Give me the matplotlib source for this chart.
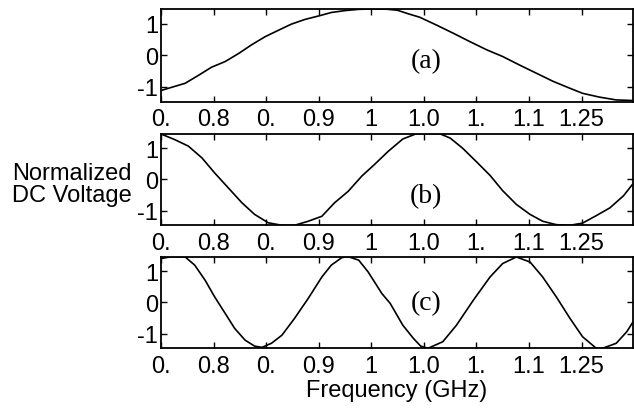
import matplotlib
matplotlib.use('Agg')
import matplotlib.pyplot as plt

# Values (frequency in GHz, normalized DC voltage)
freq_a = [0.750, 0.760, 0.773, 0.786, 0.798, 0.811, 0.824, 0.836, 0.849, 0.862,
          0.874, 0.887, 0.900, 0.912, 0.925, 0.938, 0.950, 0.963, 0.975, 0.985,
          0.996, 1.012, 1.028, 1.044, 1.060, 1.075, 1.091, 1.107, 1.123, 1.139,
          1.151, 1.167, 1.183, 1.200]
volt_a = [-1.12, -1.02, -0.89, -0.63, -0.38, -0.20, 0.06, 0.33, 0.59, 0.80,
          0.99, 1.14, 1.25, 1.36, 1.42, 1.46, 1.47, 1.47, 1.43, 1.32,
          1.21, 0.96, 0.70, 0.43, 0.17, -0.04, -0.31, -0.57, -0.83, -1.05,
          -1.21, -1.33, -1.42, -1.44]

freq_b = [0.750, 0.763, 0.776, 0.789, 0.801, 0.814, 0.827, 0.839, 0.852, 0.865,
          0.877, 0.890, 0.903, 0.915, 0.928, 0.941, 0.953, 0.966, 0.980, 0.993,
          1.006, 1.015, 1.025, 1.037, 1.050, 1.063, 1.075, 1.088, 1.101, 1.113,
          1.126, 1.139, 1.151, 1.164, 1.177, 1.190, 1.200]
volt_b = [1.46, 1.28, 1.07, 0.69, 0.21, -0.27, -0.75, -1.12, -1.39, -1.47,
          -1.47, -1.34, -1.18, -0.75, -0.38, 0.11, 0.48, 0.90, 1.30, 1.47,
          1.47, 1.47, 1.33, 1.00, 0.57, 0.13, -0.36, -0.80, -1.12, -1.34,
          -1.45, -1.47, -1.40, -1.16, -0.91, -0.52, -0.09]

freq_c = [0.750, 0.760, 0.773, 0.782, 0.792, 0.801, 0.811, 0.820, 0.830, 0.839,
          0.846, 0.855, 0.865, 0.877, 0.890, 0.903, 0.912, 0.922, 0.928, 0.938,
          0.947, 0.960, 0.968, 0.980, 0.990, 0.997, 1.004, 1.018, 1.031, 1.047,
          1.063, 1.075, 1.088, 1.101, 1.113, 1.126, 1.139, 1.151, 1.164, 1.170,
          1.183, 1.193, 1.200]
volt_c = [1.41, 1.47, 1.46, 1.20, 0.71, 0.18, -0.35, -0.83, -1.21, -1.40,
          -1.44, -1.31, -1.05, -0.51, 0.13, 0.82, 1.20, 1.44, 1.47, 1.36,
          0.98, 0.29, -0.03, -0.73, -1.15, -1.40, -1.47, -1.26, -0.73, 0.07,
          0.82, 1.25, 1.46, 1.30, 0.82, 0.18, -0.51, -1.10, -1.47, -1.47,
          -1.31, -0.94, -0.57]

tick_pos = [0.75, 0.80, 0.85, 0.90, 0.95, 1.00, 1.05, 1.10, 1.15]
tick_labels = ['0.', '0.8', '0.', '0.9', '1', '1.0', '1.', '1.1', '1.25']
ytick_pos = [-1, 0, 1]
ytick_labels = ['-1', '0', '1']
panel_names = ['(a)', '(b)', '(c)']


def style_axis(ax):
    ax.set_xlim(0.75, 1.199)
    ax.set_ylim(-1.47, 1.47)
    ax.set_xticks(tick_pos)
    ax.set_xticklabels(tick_labels)
    ax.set_yticks(ytick_pos)
    ax.set_yticklabels(ytick_labels)
    ax.tick_params(direction='in', top=True, right=True, length=4, width=1.0,
                   labelsize=17)
    ax.tick_params(axis='x', pad=5)
    ax.tick_params(axis='y', pad=2)
    for sp in ax.spines.values():
        sp.set_linewidth(1.3)


def main():
    plt.rcParams['font.family'] = ['Liberation Sans', 'DejaVu Sans']
    plt.rcParams['axes.unicode_minus'] = False

    fig = plt.figure(figsize=(6.34, 4.14), dpi=100)
    ax_a = fig.add_axes([0.254, 0.7524, 0.7445, 0.2234])
    ax_b = fig.add_axes([0.254, 0.4534, 0.7445, 0.2213])
    ax_c = fig.add_axes([0.254, 0.1563, 0.7445, 0.2213])

    series = [(freq_a, volt_a), (freq_b, volt_b), (freq_c, volt_c)]
    label_y = [0.44, 0.32, 0.50]
    for ax, (f, v), name, ly in zip([ax_a, ax_b, ax_c], series, panel_names, label_y):
        ax.plot(f, v, color='black', linewidth=1.2)
        style_axis(ax)
        ax.text(0.561, ly, name, transform=ax.transAxes, ha='center', va='center',
                fontsize=20, family=['Liberation Serif', 'DejaVu Serif'])

    ax_c.set_xlabel('Frequency (GHz)', fontsize=17, labelpad=1)
    fig.text(72 / 634, 1 - 185 / 414, 'Normalized\nDC Voltage', ha='center',
             va='center', fontsize=17, linespacing=1.0)

    fig.savefig('out.png', dpi=100, facecolor='white')


if __name__ == '__main__':
    main()
